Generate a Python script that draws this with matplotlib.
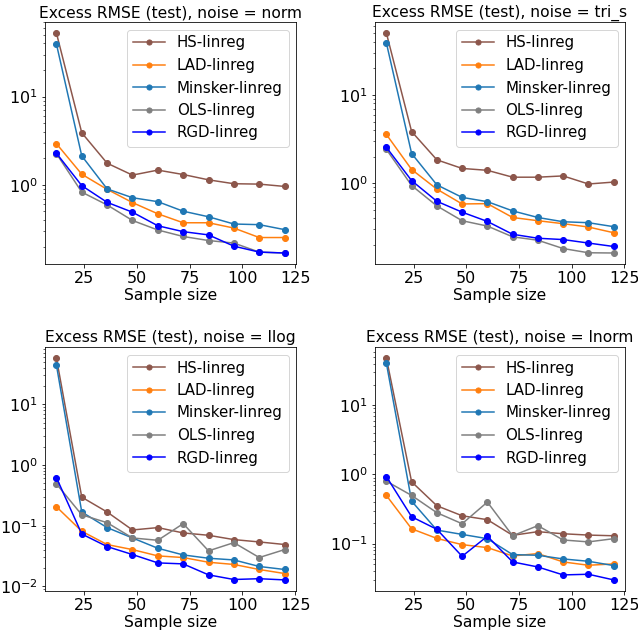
import matplotlib
matplotlib.use("Agg")
import matplotlib.pyplot as plt

W, H = 638, 634
DPI = 72
sizes = [12, 24, 36, 48, 60, 72, 84, 96, 108, 120]
methods = ["HS-linreg", "LAD-linreg", "Minsker-linreg", "OLS-linreg", "RGD-linreg"]
colors = ["#8c564b", "#ff7f0e", "#1f77b4", "#7f7f7f", "blue"]

norm_HS = [52.6, 3.89, 1.76, 1.29, 1.47, 1.31, 1.14, 1.03, 1.02, 0.96]
norm_LAD = [2.93, 1.32, 0.89, 0.63, 0.47, 0.372, 0.372, 0.324, 0.253, 0.253]
norm_Minsker = [39.5, 2.13, 0.90, 0.715, 0.645, 0.503, 0.435, 0.36, 0.354, 0.311]
norm_OLS = [2.26, 0.828, 0.592, 0.395, 0.308, 0.26, 0.234, 0.219, 0.173, 0.169]
norm_RGD = [2.28, 0.98, 0.634, 0.49, 0.344, 0.295, 0.271, 0.202, 0.173, 0.169]

tri_HS = [50.3, 3.85, 1.84, 1.47, 1.40, 1.17, 1.17, 1.21, 0.98, 1.03]
tri_LAD = [3.57, 1.43, 0.857, 0.582, 0.587, 0.409, 0.376, 0.348, 0.319, 0.275]
tri_Minsker = [38.9, 2.17, 0.958, 0.691, 0.618, 0.486, 0.409, 0.366, 0.357, 0.322]
tri_OLS = [2.42, 0.942, 0.553, 0.376, 0.327, 0.247, 0.226, 0.182, 0.163, 0.162]
tri_RGD = [2.55, 1.07, 0.624, 0.47, 0.369, 0.264, 0.238, 0.23, 0.21, 0.192]

llog_HS = [57.5, 0.295, 0.168, 0.085, 0.093, 0.076, 0.0695, 0.059, 0.054, 0.049]
llog_LAD = [0.205, 0.081, 0.0489, 0.0404, 0.0318, 0.0299, 0.025, 0.023, 0.019, 0.0163]
llog_Minsker = [44.2, 0.168, 0.093, 0.0628, 0.0425, 0.033, 0.0291, 0.0273, 0.0213, 0.019]
llog_OLS = [0.488, 0.151, 0.112, 0.0628, 0.0575, 0.108, 0.0385, 0.0526, 0.0299, 0.0404]
llog_RGD = [0.62, 0.073, 0.0453, 0.0335, 0.0244, 0.0235, 0.0155, 0.013, 0.0134, 0.0128]

lnorm_HS = [48.2, 0.784, 0.353, 0.253, 0.222, 0.132, 0.149, 0.139, 0.133, 0.130]
lnorm_LAD = [0.498, 0.164, 0.119, 0.0968, 0.0876, 0.0664, 0.0718, 0.0544, 0.0487, 0.0509]
lnorm_Minsker = [40.8, 0.412, 0.157, 0.136, 0.118, 0.0694, 0.0679, 0.0601, 0.0556, 0.0482]
lnorm_OLS = [0.80, 0.498, 0.28, 0.194, 0.399, 0.130, 0.182, 0.113, 0.106, 0.118]
lnorm_RGD = [0.935, 0.245, 0.161, 0.0656, 0.128, 0.0544, 0.046, 0.0353, 0.0361, 0.0299]

panels = [
    ("norm", [norm_HS, norm_LAD, norm_Minsker, norm_OLS, norm_RGD], (45, 22, 296, 264)),
    ("tri_s", [tri_HS, tri_LAD, tri_Minsker, tri_OLS, tri_RGD], (375, 22, 625, 264)),
    ("llog", [llog_HS, llog_LAD, llog_Minsker, llog_OLS, llog_RGD], (45, 347, 296, 591)),
    ("lnorm", [lnorm_HS, lnorm_LAD, lnorm_Minsker, lnorm_OLS, lnorm_RGD], (375, 347, 625, 591)),
]

plt.rcParams["font.size"] = 16
fig = plt.figure(figsize=(W / DPI, H / DPI), dpi=DPI)
for noise, series, (l, t, r, b) in panels:
    ax = fig.add_axes([l / W, 1 - b / H, (r - l) / W, (b - t) / H])
    for name, vals, c in zip(methods, series, colors):
        ax.plot(sizes, vals, marker="o", color=c, label=name, markersize=6, linewidth=1.5)
    ax.set_yscale("log")
    ax.set_xticks([25, 50, 75, 100, 125])
    ax.tick_params(labelsize=16)
    ax.set_title("Excess RMSE (test), noise = " + noise, fontsize=15.5, pad=5)
    ax.set_xlabel("Sample size", fontsize=15.5, labelpad=2)
    ax.legend(loc="upper right", fontsize=15, markerscale=0.85, handlelength=2.1)

fig.savefig("out.png", dpi=DPI)
